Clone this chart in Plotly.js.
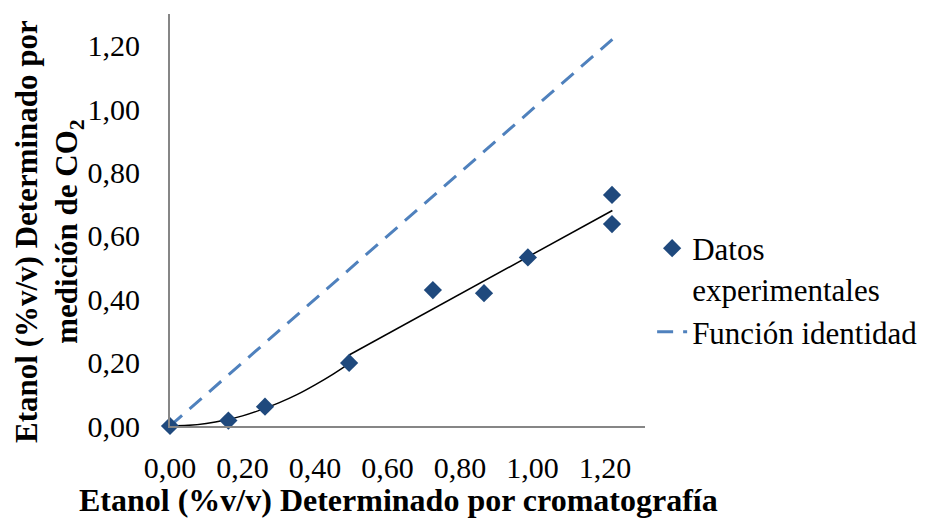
<!DOCTYPE html>
<html>
<head>
<meta charset="utf-8">
<script src="https://cdn.plot.ly/plotly-3.0.1.min.js"></script>
<style>
html,body{margin:0;padding:0;background:#fff;}
#chart{width:927px;height:522px;}
.main-svg text{font-family:'Liberation Serif' !important;}
</style>
</head>
<body>
<div id="chart"></div>
<script>
// Experimental data
const expX = [0.00, 0.161, 0.262, 0.494, 0.725, 0.866, 0.987, 1.219, 1.219];
const expY = [0.00, 0.017, 0.061, 0.199, 0.429, 0.419, 0.532, 0.729, 0.637];
// Identity function
const idX = [0.00, 1.22];
const idY = [0.00, 1.22];
// Trend line (curved part, then straight part)
const trendCurveX = [0.00, 0.05, 0.10, 0.15, 0.20, 0.25, 0.30, 0.35, 0.40, 0.45, 0.494];
const trendCurveY = [0.000, 0.002, 0.008, 0.018, 0.032, 0.051, 0.073, 0.099, 0.130, 0.164, 0.197];
const trendLineX = [0.494, 0.85, 1.22];
const trendLineY = [0.224, 0.448, 0.680];
const xTicks = [0, 0.2, 0.4, 0.6, 0.8, 1.0, 1.2];
const xTickText = ['0,00', '0,20', '0,40', '0,60', '0,80', '1,00', '1,20'];
const yTicks = [0, 0.2, 0.4, 0.6, 0.8, 1.0, 1.2];
const yTickText = ['0,00', '0,20', '0,40', '0,60', '0,80', '1,00', '1,20'];

const serif = 'Liberation Serif';

const traces = [
  {x: trendCurveX, y: trendCurveY, mode: 'lines', type: 'scatter', showlegend: false,
   line: {color: '#000000', width: 1.5, shape: 'spline'}, hoverinfo: 'skip', cliponaxis: false},
  {x: trendLineX, y: trendLineY, mode: 'lines', type: 'scatter', showlegend: false,
   line: {color: '#000000', width: 1.5}, hoverinfo: 'skip', cliponaxis: false},
  {x: idX, y: idY, mode: 'lines', type: 'scatter', name: 'Función identidad',
   line: {color: '#4F81BD', width: 3, dash: '16px,10px'}, cliponaxis: false},
  {x: expX, y: expY, mode: 'markers', type: 'scatter', name: 'Datos<br>experimentales',
   marker: {symbol: 'diamond', size: 14, color: '#1F497D'}, cliponaxis: false}
];

const layout = {
  width: 927, height: 522,
  margin: {l: 170, r: 282, t: 14, b: 96, autoexpand: false},
  paper_bgcolor: '#ffffff', plot_bgcolor: '#ffffff',
  font: {family: serif, size: 30, color: '#000000'},
  showlegend: true,
  legend: {x: 1.015, y: 0.33, xanchor: 'left', yanchor: 'middle', traceorder: 'reversed',
           valign: 'top', font: {family: serif, size: 31}, bgcolor: 'rgba(0,0,0,0)'},
  xaxis: {range: [0, 1.31], tickvals: xTicks, ticktext: xTickText, showgrid: false, zeroline: false,
          showline: true, linecolor: '#868686', linewidth: 2, ticks: '', ticklabelstandoff: 14,
          tickfont: {family: serif, size: 30}, fixedrange: true},
  yaxis: {range: [0, 1.3], tickvals: yTicks, ticktext: yTickText, showgrid: false, zeroline: false,
          showline: true, linecolor: '#868686', linewidth: 2, ticks: '', ticklabelstandoff: 22,
          tickfont: {family: serif, size: 30}, fixedrange: true},
  annotations: [
    {text: '<b>Etanol (%v/v) Determinado por cromatografía</b>', xref: 'paper', yref: 'paper',
     x: 0.48, y: -0.18, xanchor: 'center', yanchor: 'middle', showarrow: false,
     font: {family: serif, size: 32}},
    {text: '<b>Etanol (%v/v) Determinado por<br>medición de CO<sub>2</sub></b>', xref: 'paper', yref: 'paper',
     x: -0.2547, y: 0.471, xanchor: 'center', yanchor: 'middle', showarrow: false, textangle: -90,
     align: 'center', font: {family: serif, size: 31}}
  ]
};

Plotly.newPlot('chart', traces, layout, {displayModeBar: false, staticPlot: true});
</script>
</body>
</html>
